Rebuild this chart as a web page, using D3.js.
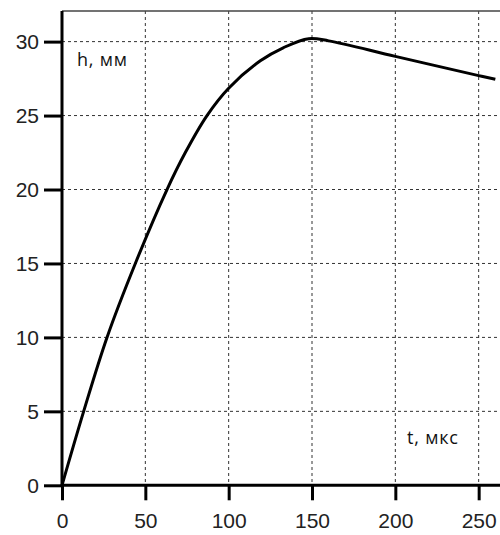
<!DOCTYPE html>
<meta charset="utf-8">
<title>h(t)</title>
<style>
body { margin: 0; background: #fff; }
.axis path, .axis line { stroke: #000; stroke-width: 3px; }
.axis text { font-family: "Liberation Sans", Arial, sans-serif; font-size: 21px; fill: #222; }
.grid line { stroke: #333; stroke-width: 1px; stroke-dasharray: 3,3; }
.lbl { font-family: "Open Sans", sans-serif; font-size: 18px; letter-spacing: 0.8px; fill: #111; }
</style>
<script src="https://d3js.org/d3.v7.min.js"></script>
<div id="chart"></div>
<script>
// values (t in mks, h in mm)
var tVals = [0, 13, 27, 44, 63, 74, 87, 100, 119, 133, 148, 160, 200, 250, 260];
var hVals = [0, 5, 10, 15, 20, 22.5, 25, 26.85, 28.7, 29.6, 30.2, 30.05, 29.0, 27.7, 27.45];
var xTicks = [0, 50, 100, 150, 200, 250];
var yTicks = [0, 5, 10, 15, 20, 25, 30];

var margin = {top: 11, left: 62},
  width = 438,
  height = 474.3;

var svg = d3.select("#chart")
  .append("svg")
  .attr("width", 500)
  .attr("height", 535)
  .append("g")
  .attr("transform", "translate(" + margin.left + "," + margin.top + ")");

var x = d3.scaleLinear().domain([0, 262.8]).range([0, width]);
var y = d3.scaleLinear().domain([0, 32.07]).range([height, 0]);

// dotted grid
var grid = svg.append("g").attr("class", "grid");
grid.selectAll("line.v")
  .data(xTicks.slice(1)).enter()
  .append("line")
  .attr("x1", function(d) { return x(d); })
  .attr("x2", function(d) { return x(d); })
  .attr("y1", 0).attr("y2", height);
grid.selectAll("line.h")
  .data(yTicks.slice(1)).enter()
  .append("line")
  .attr("x1", 0).attr("x2", width)
  .attr("y1", function(d) { return y(d); })
  .attr("y2", function(d) { return y(d); });

// thin top border
svg.append("line")
  .attr("x1", 0).attr("x2", width)
  .attr("y1", 0).attr("y2", 0)
  .style("stroke", "#444").style("stroke-width", 1.5);

// axes
svg.append("g")
  .attr("class", "axis")
  .attr("transform", "translate(0," + height + ")")
  .call(d3.axisBottom(x).tickValues(xTicks).tickSize(15).tickPadding(13).tickSizeOuter(0))
  .select(".domain").attr("d", "M0,0H" + width);

svg.append("g")
  .attr("class", "axis")
  .call(d3.axisLeft(y).tickValues(yTicks).tickSize(18).tickPadding(5).tickSizeOuter(0))
  .select(".domain").attr("d", "M0," + height + "V0");

// the curve
var line = d3.line()
  .x(function(d, i) { return x(tVals[i]); })
  .y(function(d) { return y(d); })
  .curve(d3.curveCatmullRom.alpha(0.5));

svg.append("path")
  .datum(hVals)
  .attr("d", line)
  .style("fill", "none")
  .style("stroke", "#000")
  .style("stroke-width", 3)
  .style("stroke-linejoin", "round");

// axis labels
svg.append("text").attr("class", "lbl").attr("x", 15).attr("y", 55).text("h, мм");
svg.append("text").attr("class", "lbl").attr("x", 345).attr("y", 433).text("t, мкс");
</script>
